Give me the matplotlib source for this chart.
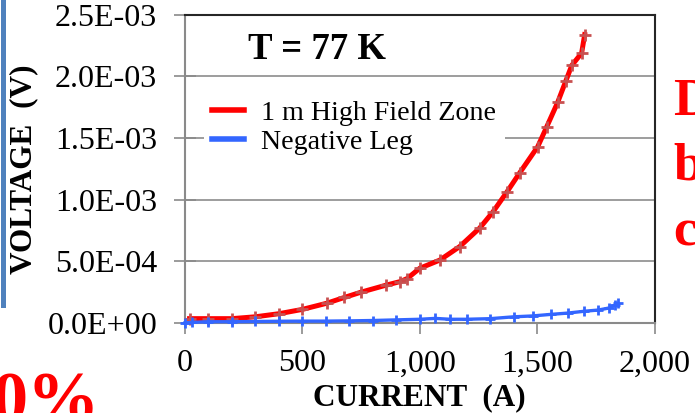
import matplotlib.pyplot as plt
from matplotlib.lines import Line2D
from matplotlib.ticker import FuncFormatter

# data (current in A, voltage in V)
hfz_current = [20, 100, 200, 300, 400, 500, 604, 679, 750, 857, 915, 946, 1000,
               1085, 1170, 1255, 1311, 1370, 1426, 1502, 1540, 1587, 1621, 1647,
               1689, 1702]
hfz_voltage = [3.5e-5, 3.5e-5, 3.5e-5, 5.0e-5, 7.5e-5, 1.1e-4, 1.6e-4, 2.07e-4,
               2.5e-4, 3.07e-4, 3.35e-4, 3.6e-4, 4.44e-4, 5.1e-4, 6.2e-4, 7.7e-4,
               9.0e-4, 1.06e-3, 1.22e-3, 1.43e-3, 1.59e-3, 1.79e-3, 1.96e-3,
               2.09e-3, 2.19e-3, 2.34e-3]

neg_current = [0, 30, 100, 200, 300, 400, 500, 600, 700, 800, 900, 1000, 1065,
               1130, 1200, 1300, 1400, 1480, 1560, 1629, 1700, 1760, 1807, 1830,
               1844]
neg_voltage = [0.0, 5e-6, 1.0e-5, 1.0e-5, 1.2e-5, 1.4e-5, 1.5e-5, 1.5e-5,
               1.7e-5, 2.0e-5, 2.5e-5, 3.0e-5, 3.7e-5, 3.0e-5, 3.0e-5, 3.5e-5,
               5.0e-5, 5.7e-5, 7.0e-5, 8.0e-5, 9.5e-5, 1.05e-4, 1.22e-4, 1.45e-4,
               1.6e-4]

series_labels = ["1 m High Field Zone", "Negative Leg"]
x_ticks = [0, 500, 1000, 1500, 2000]
y_ticks = [0.0, 5e-4, 1e-3, 1.5e-3, 2e-3, 2.5e-3]

plt.rcParams["font.family"] = ["Liberation Serif", "DejaVu Serif"]

fig = plt.figure(figsize=(6.95, 4.13), dpi=100)
ax = fig.add_axes([0.266, 0.218, 0.676, 0.746])

ax.plot(hfz_current, hfz_voltage, color="#ff0000", lw=3.6,
        marker="+", ms=8, mew=2, mec="#c85050", clip_on=False,
        label=series_labels[0], zorder=3)
ax.plot(neg_current, neg_voltage, color="#3366ff", lw=2.4,
        marker="+", ms=7, mew=2, mec="#3366ff", clip_on=False,
        label=series_labels[1], zorder=4)

ax.set_xlim(0, 2000)
ax.set_ylim(0, 2.5e-3)
ax.set_xticks(x_ticks)
ax.set_yticks(y_ticks)
ax.xaxis.set_major_formatter(FuncFormatter(lambda v, p: f"{int(v):,}"))
ax.yaxis.set_major_formatter(FuncFormatter(lambda v, p: f"{v:.1E}"))
ax.tick_params(axis="y", direction="inout", length=16, width=1.2,
               color="#8a8a8a", labelsize=23, pad=12)
ax.tick_params(axis="x", direction="out", length=8, width=1.2,
               color="#8a8a8a", labelsize=23, pad=11)

ax.grid(axis="y", color="#8c8c8c", lw=1.2)
ax.set_axisbelow(True)
for side in ["left", "bottom"]:
    ax.spines[side].set_color("#8a8a8a")
    ax.spines[side].set_linewidth(1.5)
for side in ["top", "right"]:
    ax.spines[side].set_color("#262626")
    ax.spines[side].set_linewidth(1.5)

ax.set_ylabel("VOLTAGE  (V)", fontsize=22.5, fontweight="bold")
ax.yaxis.set_label_coords(-0.313, 0.5)
ax.set_xlabel("CURRENT  (A)", fontsize=22.5, fontweight="bold")
ax.xaxis.set_label_coords(0.5, -0.195)

ax.text(0.281, 0.886, "T = 77 K", transform=ax.transAxes, fontsize=26.5,
        fontweight="bold", ha="center", va="center")

leg = ax.legend(loc="upper left", bbox_to_anchor=(0.04, 0.75), fontsize=20.2,
                handlelength=1.15, handletextpad=0.6, labelspacing=0.13,
                borderpad=0.3, borderaxespad=0, numpoints=1, fancybox=False)
leg.get_frame().set_facecolor("white")
leg.get_frame().set_edgecolor("none")
leg.get_frame().set_alpha(1)
for h in leg.legend_handles:
    h.set_marker("")
    h.set_linewidth(4)

# bits of the surrounding slide
fig.add_artist(Line2D([3.5 / 695, 3.5 / 695], [1.0, 1 - 305 / 413],
                      color="#4f81bd", lw=3.6))
for txt, base in zip(["D", "b", "c"], [115, 179, 245]):
    fig.text(673 / 695, 1 - base / 413, txt, color="#ff0000", fontsize=38,
             fontweight="bold", ha="left", va="baseline")
fig.text(100 / 695, 1 - 422 / 413, "0%", color="#ff0000", fontsize=52,
         fontweight="bold", ha="right", va="baseline")

fig.savefig("out.png", dpi=100)
